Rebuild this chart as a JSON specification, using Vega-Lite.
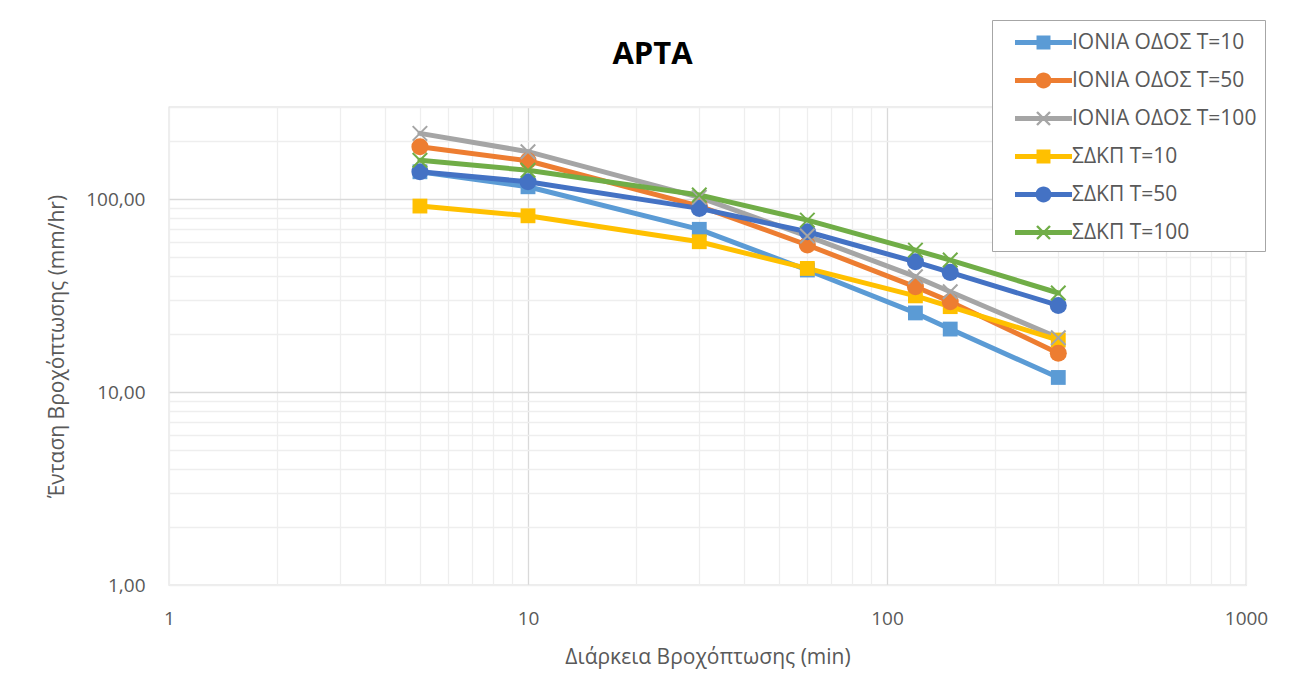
{
  "$schema": "https://vega.github.io/schema/vega-lite/v6.json",
  "width": 1077,
  "height": 478,
  "autosize": {"type": "none"},
  "padding": {"left": 169, "top": 107, "right": 43, "bottom": 114},
  "background": "white",
  "config": {
    "font": "Open Sans",
    "view": {"stroke": "#D9D9D9", "strokeWidth": 1.3}
  },
  "title": {
    "text": "ΑΡΤΑ",
    "fontSize": 31,
    "fontWeight": "bold",
    "color": "#000000",
    "anchor": "middle",
    "dx": -55,
    "offset": -51
  },
  "data": {
    "values": [
      {"series": "ΙΟΝΙΑ ΟΔΟΣ Τ=10", "duration": 5, "intensity": 138.5},
      {"series": "ΙΟΝΙΑ ΟΔΟΣ Τ=10", "duration": 10, "intensity": 115.8},
      {"series": "ΙΟΝΙΑ ΟΔΟΣ Τ=10", "duration": 30, "intensity": 69.7},
      {"series": "ΙΟΝΙΑ ΟΔΟΣ Τ=10", "duration": 60, "intensity": 42.9},
      {"series": "ΙΟΝΙΑ ΟΔΟΣ Τ=10", "duration": 120, "intensity": 25.7},
      {"series": "ΙΟΝΙΑ ΟΔΟΣ Τ=10", "duration": 150, "intensity": 21.2},
      {"series": "ΙΟΝΙΑ ΟΔΟΣ Τ=10", "duration": 300, "intensity": 11.9},
      {"series": "ΙΟΝΙΑ ΟΔΟΣ Τ=50", "duration": 5, "intensity": 186.6},
      {"series": "ΙΟΝΙΑ ΟΔΟΣ Τ=50", "duration": 10, "intensity": 158},
      {"series": "ΙΟΝΙΑ ΟΔΟΣ Τ=50", "duration": 30, "intensity": 92},
      {"series": "ΙΟΝΙΑ ΟΔΟΣ Τ=50", "duration": 60, "intensity": 57.8},
      {"series": "ΙΟΝΙΑ ΟΔΟΣ Τ=50", "duration": 120, "intensity": 35.1},
      {"series": "ΙΟΝΙΑ ΟΔΟΣ Τ=50", "duration": 150, "intensity": 29.4},
      {"series": "ΙΟΝΙΑ ΟΔΟΣ Τ=50", "duration": 300, "intensity": 15.9},
      {"series": "ΙΟΝΙΑ ΟΔΟΣ Τ=100", "duration": 5, "intensity": 219},
      {"series": "ΙΟΝΙΑ ΟΔΟΣ Τ=100", "duration": 10, "intensity": 176},
      {"series": "ΙΟΝΙΑ ΟΔΟΣ Τ=100", "duration": 30, "intensity": 102},
      {"series": "ΙΟΝΙΑ ΟΔΟΣ Τ=100", "duration": 60, "intensity": 64.3},
      {"series": "ΙΟΝΙΑ ΟΔΟΣ Τ=100", "duration": 120, "intensity": 39.6},
      {"series": "ΙΟΝΙΑ ΟΔΟΣ Τ=100", "duration": 150, "intensity": 33.1},
      {"series": "ΙΟΝΙΑ ΟΔΟΣ Τ=100", "duration": 300, "intensity": 19.1},
      {"series": "ΣΔΚΠ Τ=10", "duration": 5, "intensity": 92},
      {"series": "ΣΔΚΠ Τ=10", "duration": 10, "intensity": 81.9},
      {"series": "ΣΔΚΠ Τ=10", "duration": 30, "intensity": 60.1},
      {"series": "ΣΔΚΠ Τ=10", "duration": 60, "intensity": 43.7},
      {"series": "ΣΔΚΠ Τ=10", "duration": 120, "intensity": 31.5},
      {"series": "ΣΔΚΠ Τ=10", "duration": 150, "intensity": 27.7},
      {"series": "ΣΔΚΠ Τ=10", "duration": 300, "intensity": 18.6},
      {"series": "ΣΔΚΠ Τ=50", "duration": 5, "intensity": 138.5},
      {"series": "ΣΔΚΠ Τ=50", "duration": 10, "intensity": 122.9},
      {"series": "ΣΔΚΠ Τ=50", "duration": 30, "intensity": 89.5},
      {"series": "ΣΔΚΠ Τ=50", "duration": 60, "intensity": 67.7},
      {"series": "ΣΔΚΠ Τ=50", "duration": 120, "intensity": 47.3},
      {"series": "ΣΔΚΠ Τ=50", "duration": 150, "intensity": 41.7},
      {"series": "ΣΔΚΠ Τ=50", "duration": 300, "intensity": 28.1},
      {"series": "ΣΔΚΠ Τ=100", "duration": 5, "intensity": 159},
      {"series": "ΣΔΚΠ Τ=100", "duration": 10, "intensity": 141},
      {"series": "ΣΔΚΠ Τ=100", "duration": 30, "intensity": 104.9},
      {"series": "ΣΔΚΠ Τ=100", "duration": 60, "intensity": 77.8},
      {"series": "ΣΔΚΠ Τ=100", "duration": 120, "intensity": 54.4},
      {"series": "ΣΔΚΠ Τ=100", "duration": 150, "intensity": 48.3},
      {"series": "ΣΔΚΠ Τ=100", "duration": 300, "intensity": 32.6}
    ]
  },
  "encoding": {
    "x": {
      "field": "duration",
      "type": "quantitative",
      "scale": {"type": "log", "domain": [1, 1000]},
      "axis": {
        "title": "Διάρκεια Βροχόπτωσης (min)",
        "values": [1, 2, 3, 4, 5, 6, 7, 8, 9, 10, 20, 30, 40, 50, 60, 70, 80, 90, 100, 200, 300, 400, 500, 600, 700, 800, 900, 1000],
        "labelExpr": "datum.value == 1 || datum.value == 10 || datum.value == 100 || datum.value == 1000 ? toString(datum.value) : ''",
        "labelOverlap": false,
        "labelFlush": false,
        "labelFontSize": 19,
        "labelColor": "#595959",
        "labelPadding": 24,
        "ticks": false,
        "domain": false,
        "grid": true,
        "gridColor": {"condition": {"test": "datum.value == 10 || datum.value == 100", "value": "#D9D9D9"}, "value": "#EEEEEE"},
        "gridWidth": 1.3,
        "titleFontSize": 21,
        "titleFontWeight": "normal",
        "titleColor": "#595959",
        "titleBaseline": "middle",
        "titleY": 72
      }
    },
    "y": {
      "field": "intensity",
      "type": "quantitative",
      "scale": {"type": "log", "domain": [1, 300]},
      "axis": {
        "title": "Ένταση Βροχόπτωσης (mm/hr)",
        "values": [1, 2, 3, 4, 5, 6, 7, 8, 9, 10, 20, 30, 40, 50, 60, 70, 80, 90, 100, 200, 300],
        "labelExpr": "datum.value == 1 ? '1,00' : datum.value == 10 ? '10,00' : datum.value == 100 ? '100,00' : ''",
        "labelOverlap": false,
        "labelFlush": false,
        "labelFontSize": 19,
        "labelColor": "#595959",
        "labelPadding": 24,
        "ticks": false,
        "domain": false,
        "grid": true,
        "gridColor": {"condition": {"test": "datum.value == 10 || datum.value == 100", "value": "#D9D9D9"}, "value": "#EEEEEE"},
        "gridWidth": 1.3,
        "titleFontSize": 21,
        "titleFontWeight": "normal",
        "titleColor": "#595959",
        "titleAngle": 270,
        "titleAlign": "center",
        "titleBaseline": "middle",
        "titleX": -112,
        "titleY": 239
      }
    }
  },
  "layer": [
    {
      "mark": {"type": "line", "strokeWidth": 5, "strokeJoin": "round", "strokeCap": "round"},
      "encoding": {
        "stroke": {
          "field": "series",
          "type": "nominal",
          "scale": {
            "domain": ["ΣΔΚΠ Τ=100", "ΣΔΚΠ Τ=50", "ΣΔΚΠ Τ=10", "ΙΟΝΙΑ ΟΔΟΣ Τ=100", "ΙΟΝΙΑ ΟΔΟΣ Τ=50", "ΙΟΝΙΑ ΟΔΟΣ Τ=10"],
            "range": ["#70AD47", "#4472C4", "#FFC000", "#A5A5A5", "#ED7D31", "#5B9BD5"]
          },
          "legend": null
        }
      }
    },
    {
      "transform": [{"filter": {"field": "series", "oneOf": ["ΙΟΝΙΑ ΟΔΟΣ Τ=10", "ΣΔΚΠ Τ=10"]}}],
      "mark": {"type": "point", "shape": "square", "filled": true, "size": 220, "opacity": 1, "strokeWidth": 0},
      "encoding": {
        "fill": {
          "field": "series",
          "type": "nominal",
          "scale": {
            "domain": ["ΙΟΝΙΑ ΟΔΟΣ Τ=50", "ΙΟΝΙΑ ΟΔΟΣ Τ=100", "ΣΔΚΠ Τ=10", "ΣΔΚΠ Τ=50", "ΣΔΚΠ Τ=100", "ΙΟΝΙΑ ΟΔΟΣ Τ=10"],
            "range": ["#ED7D31", "#A5A5A5", "#FFC000", "#4472C4", "#70AD47", "#5B9BD5"]
          },
          "legend": null
        }
      }
    },
    {
      "transform": [{"filter": {"field": "series", "oneOf": ["ΙΟΝΙΑ ΟΔΟΣ Τ=50", "ΣΔΚΠ Τ=50"]}}],
      "mark": {"type": "point", "shape": "circle", "filled": true, "size": 290, "opacity": 1, "strokeWidth": 0},
      "encoding": {"fill": {"field": "series", "type": "nominal", "legend": null}}
    },
    {
      "transform": [{"filter": {"field": "series", "oneOf": ["ΙΟΝΙΑ ΟΔΟΣ Τ=100", "ΣΔΚΠ Τ=100"]}}],
      "mark": {"type": "point", "shape": "M-1,-1L1,1M-1,1L1,-1", "filled": false, "size": 210, "strokeWidth": 2, "opacity": 1},
      "encoding": {"stroke": {"field": "series", "type": "nominal", "legend": null}}
    },
    {
      "mark": {"type": "point", "filled": true, "size": 0, "opacity": 1, "strokeWidth": 0},
      "encoding": {
        "color": {
          "field": "series",
          "type": "nominal",
          "scale": {
            "domain": ["ΙΟΝΙΑ ΟΔΟΣ Τ=10", "ΙΟΝΙΑ ΟΔΟΣ Τ=50", "ΙΟΝΙΑ ΟΔΟΣ Τ=100", "ΣΔΚΠ Τ=10", "ΣΔΚΠ Τ=50", "ΣΔΚΠ Τ=100"],
            "range": ["#5B9BD5", "#ED7D31", "#A5A5A5", "#FFC000", "#4472C4", "#70AD47"]
          },
          "legend": {
            "orient": "none",
            "legendX": 823,
            "legendY": -87,
            "title": null,
            "symbolSize": 812,
            "symbolStrokeWidth": 0,
            "labelFontSize": 21,
            "labelColor": "#595959",
            "labelLimit": 400,
            "labelExpr": "datum.label + '\u00a0\u00a0\u00a0\u00a0\u00a0\u00a0\u00a0'",
            "labelOffset": 14,
            "padding": 8,
            "symbolOffset": 29,
            "rowPadding": 13,
            "strokeColor": "#A6A6A6",
            "fillColor": "white"
          }
        },
        "shape": {
          "field": "series",
          "type": "nominal",
          "scale": {
            "domain": ["ΙΟΝΙΑ ΟΔΟΣ Τ=10", "ΙΟΝΙΑ ΟΔΟΣ Τ=50", "ΙΟΝΙΑ ΟΔΟΣ Τ=100", "ΣΔΚΠ Τ=10", "ΣΔΚΠ Τ=50", "ΣΔΚΠ Τ=100"],
            "range": [
              "M-2,-0.175H2V0.175H-2ZM-0.49,-0.49H0.49V0.49H-0.49Z",
              "M-2,-0.175H2V0.175H-2ZM-0.56,0A0.56,0.56,0,1,1,0.56,0A0.56,0.56,0,1,1,-0.56,0Z",
              "M-2,-0.175H2V0.175H-2ZM-0.396,-0.516L0.516,0.396L0.396,0.516L-0.516,-0.396ZM-0.516,0.396L0.396,-0.516L0.516,-0.396L-0.396,0.516Z",
              "M-2,-0.175H2V0.175H-2ZM-0.49,-0.49H0.49V0.49H-0.49Z",
              "M-2,-0.175H2V0.175H-2ZM-0.56,0A0.56,0.56,0,1,1,0.56,0A0.56,0.56,0,1,1,-0.56,0Z",
              "M-2,-0.175H2V0.175H-2ZM-0.396,-0.516L0.516,0.396L0.396,0.516L-0.516,-0.396ZM-0.516,0.396L0.396,-0.516L0.516,-0.396L-0.396,0.516Z"
            ]
          },
          "legend": {
            "orient": "none",
            "legendX": 823,
            "legendY": -87,
            "title": null,
            "symbolSize": 812,
            "symbolStrokeWidth": 0,
            "labelFontSize": 21,
            "labelColor": "#595959",
            "labelLimit": 400,
            "labelExpr": "datum.label + '\u00a0\u00a0\u00a0\u00a0\u00a0\u00a0\u00a0'",
            "labelOffset": 14,
            "padding": 8,
            "symbolOffset": 29,
            "rowPadding": 13,
            "strokeColor": "#A6A6A6",
            "fillColor": "white"
          }
        }
      }
    }
  ]
}
